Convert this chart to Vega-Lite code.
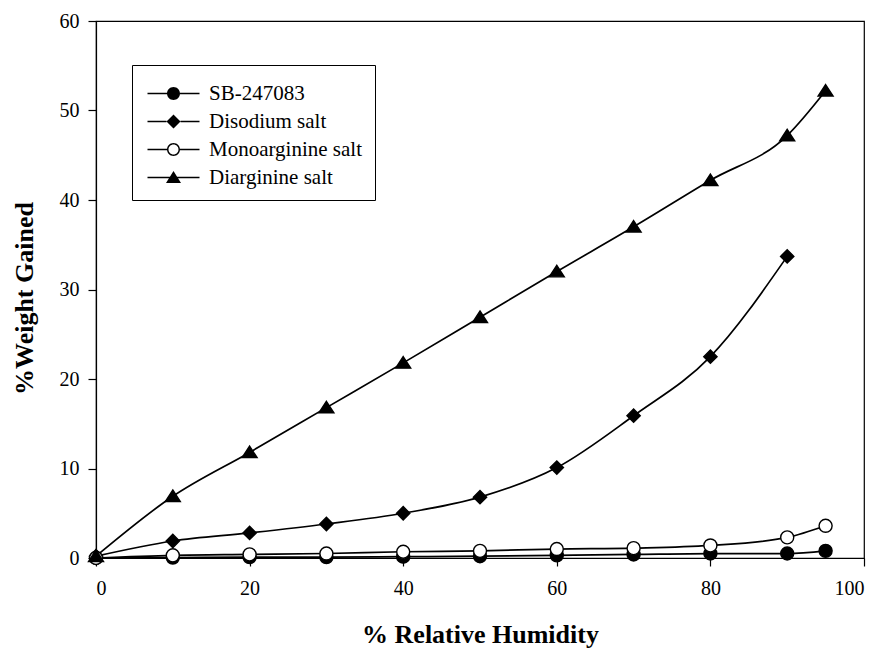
{
  "$schema": "https://vega.github.io/schema/vega-lite/v6.json",
  "width": 768,
  "height": 537,
  "autosize": {"type": "none"},
  "padding": {"left": 96, "top": 21, "right": 18, "bottom": 91},
  "background": "white",
  "config": {
    "view": {"stroke": "black", "strokeWidth": 1.2},
    "font": "Liberation Serif",
    "axis": {
      "domainColor": "black", "tickColor": "black", "labelColor": "black", "titleColor": "black",
      "domainWidth": 1.2, "tickWidth": 1.2,
      "grid": false, "labelFont": "Liberation Serif", "titleFont": "Liberation Serif",
      "labelFontSize": 20, "titleFontSize": 26, "titleFontWeight": "bold", "tickSize": 8
    }
  },
  "data": {"values": [
    {"rh": 0, "wg": 0.0, "series": "SB-247083"},
    {"rh": 10, "wg": 0.05, "series": "SB-247083"},
    {"rh": 20, "wg": 0.1, "series": "SB-247083"},
    {"rh": 30, "wg": 0.1, "series": "SB-247083"},
    {"rh": 40, "wg": 0.15, "series": "SB-247083"},
    {"rh": 50, "wg": 0.2, "series": "SB-247083"},
    {"rh": 60, "wg": 0.3, "series": "SB-247083"},
    {"rh": 70, "wg": 0.4, "series": "SB-247083"},
    {"rh": 80, "wg": 0.5, "series": "SB-247083"},
    {"rh": 90, "wg": 0.5, "series": "SB-247083"},
    {"rh": 95, "wg": 0.8, "series": "SB-247083"},
    {"rh": 0, "wg": 0.2, "series": "Disodium salt"},
    {"rh": 10, "wg": 1.9, "series": "Disodium salt"},
    {"rh": 20, "wg": 2.8, "series": "Disodium salt"},
    {"rh": 30, "wg": 3.8, "series": "Disodium salt"},
    {"rh": 40, "wg": 5.0, "series": "Disodium salt"},
    {"rh": 50, "wg": 6.8, "series": "Disodium salt"},
    {"rh": 60, "wg": 10.1, "series": "Disodium salt"},
    {"rh": 70, "wg": 15.9, "series": "Disodium salt"},
    {"rh": 80, "wg": 22.5, "series": "Disodium salt"},
    {"rh": 90, "wg": 33.7, "series": "Disodium salt"},
    {"rh": 0, "wg": 0.0, "series": "Monoarginine salt"},
    {"rh": 10, "wg": 0.3, "series": "Monoarginine salt"},
    {"rh": 20, "wg": 0.4, "series": "Monoarginine salt"},
    {"rh": 30, "wg": 0.5, "series": "Monoarginine salt"},
    {"rh": 40, "wg": 0.7, "series": "Monoarginine salt"},
    {"rh": 50, "wg": 0.8, "series": "Monoarginine salt"},
    {"rh": 60, "wg": 1.0, "series": "Monoarginine salt"},
    {"rh": 70, "wg": 1.1, "series": "Monoarginine salt"},
    {"rh": 80, "wg": 1.4, "series": "Monoarginine salt"},
    {"rh": 90, "wg": 2.3, "series": "Monoarginine salt"},
    {"rh": 95, "wg": 3.6, "series": "Monoarginine salt"},
    {"rh": 0, "wg": 0.2, "series": "Diarginine salt"},
    {"rh": 10, "wg": 6.9, "series": "Diarginine salt"},
    {"rh": 20, "wg": 11.8, "series": "Diarginine salt"},
    {"rh": 30, "wg": 16.8, "series": "Diarginine salt"},
    {"rh": 40, "wg": 21.8, "series": "Diarginine salt"},
    {"rh": 50, "wg": 26.9, "series": "Diarginine salt"},
    {"rh": 60, "wg": 32.0, "series": "Diarginine salt"},
    {"rh": 70, "wg": 37.0, "series": "Diarginine salt"},
    {"rh": 80, "wg": 42.2, "series": "Diarginine salt"},
    {"rh": 90, "wg": 47.2, "series": "Diarginine salt"},
    {"rh": 95, "wg": 52.2, "series": "Diarginine salt"}
  ]},
  "encoding": {
    "x": {"field": "rh", "type": "quantitative",
      "scale": {"domain": [0, 100], "nice": false},
      "axis": {"values": [0, 20, 40, 60, 80, 100], "title": "% Relative Humidity", "labelPadding": 12, "titleY": 84, "titleBaseline": "alphabetic"}},
    "y": {"field": "wg", "type": "quantitative",
      "scale": {"domain": [0, 60], "nice": false},
      "axis": {"values": [0, 10, 20, 30, 40, 50, 60], "title": "%Weight Gained", "labelPadding": 9, "titleX": -64, "titleY": 277, "titleBaseline": "alphabetic"}}
  },
  "layer": [
    {
      "mark": {"type": "line", "interpolate": "monotone", "color": "black", "strokeWidth": 1.7},
      "encoding": {"detail": {"field": "series"}}
    },
    {
      "mark": {"type": "point", "filled": false, "stroke": "black", "strokeWidth": 1.4, "opacity": 1},
      "encoding": {
        "shape": {"field": "series", "type": "nominal", "legend": null,
          "scale": {"domain": ["SB-247083", "Disodium salt", "Monoarginine salt", "Diarginine salt"],
            "range": ["M-0.93,0A0.93,0.93 0 1,0 0.93,0A0.93,0.93 0 1,0 -0.93,0Z", "M0,-0.95L0.95,0L0,0.95L-0.95,0Z", "M-0.93,0A0.93,0.93 0 1,0 0.93,0A0.93,0.93 0 1,0 -0.93,0Z", "M0,-0.9L1.07,0.75L-1.07,0.75Z"]}},
        "fill": {"field": "series", "type": "nominal", "legend": null,
          "scale": {"domain": ["SB-247083", "Disodium salt", "Monoarginine salt", "Diarginine salt"],
            "range": ["black", "black", "white", "black"]}},
        "size": {"value": 196}
      }
    },
    {
      "transform": [{"filter": "false"}],
      "mark": {"type": "point", "filled": false, "stroke": "black", "strokeWidth": 0, "opacity": 1},
      "encoding": {
        "shape": {"field": "series", "type": "nominal",
          "scale": {"domain": ["SB-247083", "Disodium salt", "Monoarginine salt", "Diarginine salt"],
            "range": [
              "M-0.7,-0.075H1.25V0.075H-0.7Z M2.55,-0.075H4.5V0.075H2.55Z M1.25,0A0.65,0.65 0 1,1 2.55,0A0.65,0.65 0 1,1 1.25,0Z",
              "M-0.7,-0.075H1.2V0.075H-0.7Z M2.6,-0.075H4.5V0.075H2.6Z M1.9,-0.7L2.6,0L1.9,0.7L1.2,0Z",
              "M-0.7,-0.075H1.25V0.075H-0.7Z M2.55,-0.075H4.5V0.075H2.55Z M1.25,0A0.65,0.65 0 1,1 2.55,0A0.65,0.65 0 1,1 1.25,0Z M1.4,0A0.5,0.5 0 1,0 2.4,0A0.5,0.5 0 1,0 1.4,0Z",
              "M-0.7,-0.075H1.55V0.075H-0.7Z M2.25,-0.075H4.5V0.075H2.25Z M1.9,-0.65L2.65,0.55L1.15,0.55Z"]},
          "legend": {
            "title": " ", "titleFontSize": 2, "titleColor": "white", "titlePadding": 4,
            "orient": "none", "legendX": 36, "legendY": 44,
            "strokeColor": "black", "fillColor": "white", "padding": 12,
            "symbolSize": 400, "symbolStrokeWidth": 0,
            "labelFont": "Liberation Serif", "labelFontSize": 21, "labelColor": "black",
            "labelOffset": 44, "rowPadding": 6, "symbolOpacity": 1
          }},
        "fill": {"field": "series", "type": "nominal", "legend": null,
          "scale": {"domain": ["SB-247083", "Disodium salt", "Monoarginine salt", "Diarginine salt"],
            "range": ["black", "black", "black", "black"]}}
      }
    }
  ],
  "resolve": {"scale": {"shape": "independent", "fill": "independent"}}
}
